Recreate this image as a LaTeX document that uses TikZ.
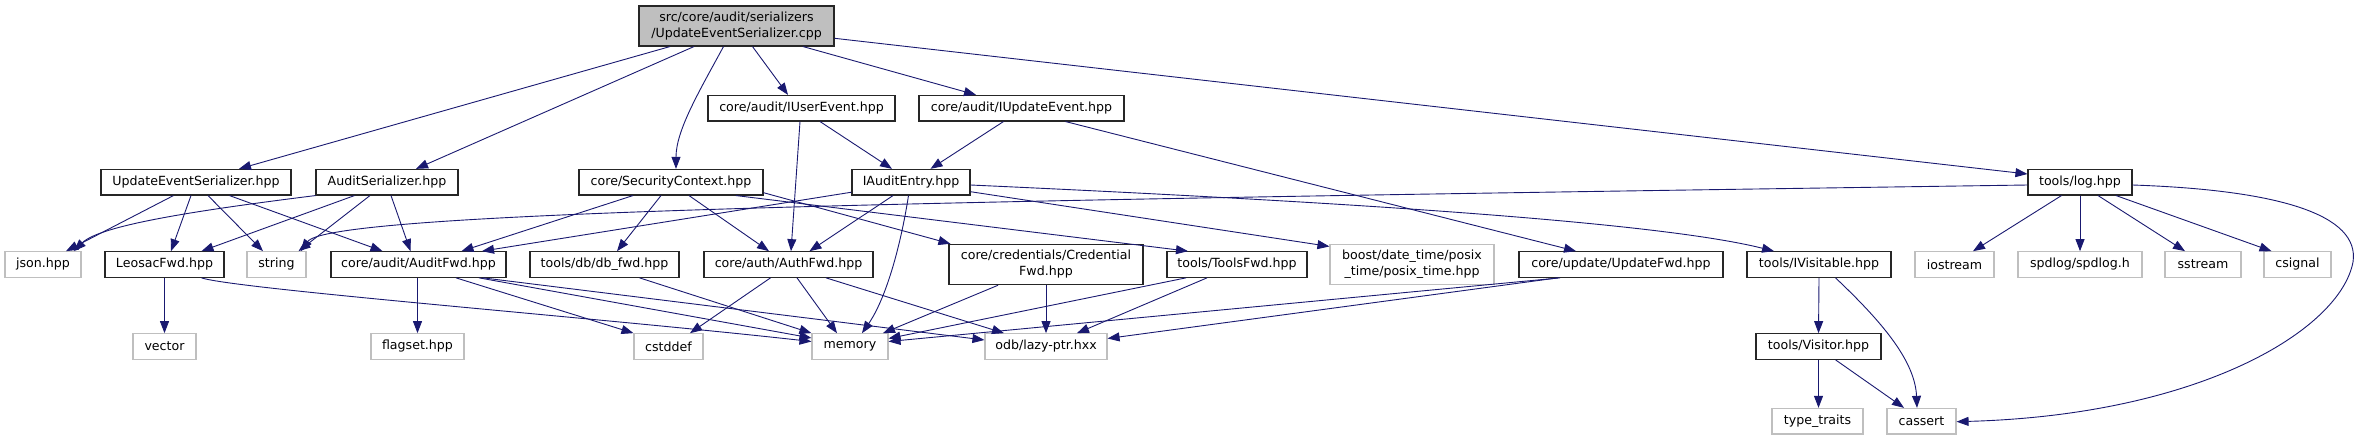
\documentclass[tikz,border=0pt]{standalone}
\usepackage{fontspec}
\setmainfont{DejaVu Sans}
\usetikzlibrary{arrows.meta}
\definecolor{edgec}{HTML}{191970}
\definecolor{greyb}{HTML}{BFBFBF}
\tikzset{
  hdr/.style={draw=black!85, line width=1.1pt, minimum height=25.6pt, inner sep=0pt,
    font=\fontsize{12.6}{16}\selectfont, align=center},
  ext/.style={hdr, draw=greyb},
  rootn/.style={hdr, fill=greyb, minimum height=40pt},
  two/.style={minimum height=40.4pt},
  dep/.style={draw=edgec, line width=0.9pt, -{Triangle[length=12pt,width=9pt]}},
}
\begin{document}
\begin{tikzpicture}[x=1pt,y=-1pt]
\useasboundingbox (0,0) rectangle (2357,440);
% layer 0/1
\node[rootn, minimum width=195pt] (root) at (736.5,26) {src/core/audit/serializers\\/UpdateEventSerializer.cpp};
\node[hdr, minimum width=187pt] (iuser) at (801.5,108.2) {core/audit/IUserEvent.hpp};
\node[hdr, minimum width=205pt] (iupd) at (1021.5,108.2) {core/audit/IUpdateEvent.hpp};
% layer 2
\node[hdr, minimum width=190pt] (ues) at (196,182.2) {UpdateEventSerializer.hpp};
\node[hdr, minimum width=142pt] (aser) at (387,182.2) {AuditSerializer.hpp};
\node[hdr, minimum width=184pt] (sc) at (671,182.2) {core/SecurityContext.hpp};
\node[hdr, minimum width=118pt] (iae) at (911,182.2) {IAuditEntry.hpp};
\node[hdr, minimum width=104pt] (log) at (2080,182.2) {tools/log.hpp};
% layer 3
\node[ext, minimum width=76pt] (json) at (43,264.5) {json.hpp};
\node[hdr, minimum width=119pt] (leo) at (164.5,264.5) {LeosacFwd.hpp};
\node[ext, minimum width=59pt] (str) at (276.5,264.5) {string};
\node[hdr, minimum width=175pt] (afwd) at (418.5,264.5) {core/audit/AuditFwd.hpp};
\node[hdr, minimum width=149pt] (db) at (604.5,264.5) {tools/db/db\_fwd.hpp};
\node[hdr, minimum width=169pt] (auth) at (788.5,264.5) {core/auth/AuthFwd.hpp};
\node[hdr, two, minimum width=194pt] (cred) at (1046,264.5) {core/credentials/Credential\\Fwd.hpp};
\node[hdr, minimum width=140pt] (tfwd) at (1237,264.5) {tools/ToolsFwd.hpp};
\node[ext, two, minimum width=164pt] (boost) at (1412,264.5) {boost/date\_time/posix\\\_time/posix\_time.hpp};
\node[hdr, minimum width=204pt] (ufwd) at (1621,264.5) {core/update/UpdateFwd.hpp};
\node[hdr, minimum width=144pt] (ivis) at (1819,264.5) {tools/IVisitable.hpp};
\node[ext, minimum width=79pt] (ios) at (1954.5,264.5) {iostream};
\node[ext, minimum width=124pt] (spd) at (2080,264.5) {spdlog/spdlog.h};
\node[ext, minimum width=76pt] (sst) at (2203,264.5) {sstream};
\node[ext, minimum width=67pt] (csig) at (2297.5,264.5) {csignal};
% layer 4
\node[ext, minimum width=63pt] (vec) at (164.5,346.5) {vector};
\node[ext, minimum width=93pt] (flag) at (417.5,346.5) {flagset.hpp};
\node[ext, minimum width=69pt] (cstd) at (668.5,346.5) {cstddef};
\node[ext, minimum width=76pt] (mem) at (850,346.5) {memory};
\node[ext, minimum width=122pt] (lazy) at (1046,346.5) {odb/lazy-ptr.hxx};
\node[hdr, minimum width=125pt] (vis) at (1818.5,346.5) {tools/Visitor.hpp};
% layer 5
\node[ext, minimum width=91pt] (tt) at (1817.5,421.2) {type\_traits};
\node[ext, minimum width=69pt] (cas) at (1921.5,421.2) {cassert};

% edges from root
\draw[dep] ([xshift=-66.5pt]root.south) -- ([xshift=43pt]ues.north);
\draw[dep] ([xshift=-42.5pt]root.south) -- ([xshift=29pt]aser.north);
\draw[dep] ([xshift=-13pt]root.south) .. controls (700,90) and (676,130) .. ([xshift=5pt]sc.north);
\draw[dep] ([xshift=16pt]root.south) -- ([xshift=-13.5pt]iuser.north);
\draw[dep] ([xshift=66.5pt]root.south) -- ([xshift=-45.5pt]iupd.north);
\draw[dep] ([yshift=-12.3pt]root.east) -- ([yshift=8.2pt]log.west);
% layer 1
\draw[dep] ([xshift=18.5pt]iuser.south) -- ([xshift=-19pt]iae.north);
\draw[dep] ([xshift=-1.5pt]iuser.south) -- ([xshift=2.5pt]auth.north);
\draw[dep] ([xshift=-18pt]iupd.south) -- ([xshift=19.5pt]iae.north);
\draw[dep] ([xshift=44pt]iupd.south) -- ([xshift=-45pt]ufwd.north);
% layer 2
\draw[dep] ([xshift=-22.5pt]ues.south) -- ([xshift=23pt]json.north);
\draw[dep] ([xshift=-5pt]ues.south) -- ([xshift=6.5pt]leo.north);
\draw[dep] ([xshift=12pt]ues.south) -- ([xshift=-13.5pt]str.north);
\draw[dep] ([xshift=33.5pt]ues.south) -- ([xshift=-36pt]afwd.north);
\draw[dep] (aser.south west) .. controls (200,210) and (100,225) .. ([xshift=31pt]json.north);
\draw[dep] ([xshift=-32.5pt]aser.south) -- ([xshift=37pt]leo.north);
\draw[dep] ([xshift=-17pt]aser.south) -- ([xshift=22pt]str.north);
\draw[dep] ([xshift=4pt]aser.south) -- ([xshift=-8pt]afwd.north);
\draw[dep] ([xshift=-38pt]sc.south) -- ([xshift=43pt]afwd.north);
\draw[dep] ([xshift=-10pt]sc.south) -- ([xshift=12.5pt]db.north);
\draw[dep] ([xshift=18pt]sc.south) -- ([xshift=-19.5pt]auth.north);
\draw[dep] ([yshift=-10.5pt]sc.east) -- ([xshift=2pt]cred.north west);
\draw[dep] ([xshift=65pt]sc.south) -- ([xshift=-49pt]tfwd.north);
\draw[dep] ([yshift=-10pt]iae.west) -- ([xshift=63.5pt]afwd.north);
\draw[dep] ([xshift=-18pt]iae.south) -- ([xshift=21pt]auth.north);
\draw[dep] ([xshift=-2.5pt]iae.south) .. controls (900,250) and (885,300) .. ([xshift=12pt]mem.north);
\draw[dep] ([yshift=-9.5pt]iae.east) -- ([yshift=-2.7pt]boost.north west);
\draw[dep] ([yshift=-2.8pt]iae.east) .. controls (1300,200) and (1650,220) .. ([xshift=-45pt]ivis.north);
\draw[dep] ([yshift=-2.8pt]log.west) .. controls (1000,200) and (330,210) .. ([xshift=24.5pt]str.north);
\draw[dep] ([xshift=-18.5pt]log.south) -- ([xshift=18.5pt]ios.north);
\draw[dep] (log.south) -- (spd.north);
\draw[dep] ([xshift=18pt]log.south) -- ([xshift=-18pt]sst.north);
\draw[dep] ([xshift=36pt]log.south) -- ([xshift=-26pt]csig.north);
\draw[dep] ([yshift=-2.8pt]log.east) .. controls (2280,190) and (2360,215) .. (2353,262)
  .. controls (2340,330) and (2200,415) .. ([yshift=-0.5pt]cas.east);
% layer 3
\draw[dep] (leo.south) -- (vec.north);
\draw[dep] ([xshift=37pt]leo.south) .. controls (235,289) and (600,318) .. ([yshift=5pt]mem.west);
\draw[dep] ([xshift=-1pt]afwd.south) -- (flag.north);
\draw[dep] ([xshift=37.5pt]afwd.south) -- (cstd.north west);
\draw[dep] ([xshift=60.5pt]afwd.south) -- ([yshift=8.5pt]mem.west);
\draw[dep] ([xshift=64.5pt]afwd.south) -- ([yshift=6.5pt]lazy.west);
\draw[dep] ([xshift=35pt]db.south) -- (mem.north west);
\draw[dep] ([xshift=-18pt]auth.south) -- ([xshift=21.5pt]cstd.north);
\draw[dep] ([xshift=8.5pt]auth.south) -- ([xshift=-13pt]mem.north);
\draw[dep] ([xshift=37.5pt]auth.south) -- ([xshift=-42pt]lazy.north);
\draw[dep] ([xshift=-48pt]cred.south) -- ([xshift=33pt]mem.north);
\draw[dep] (cred.south) -- (lazy.north);
\draw[dep] ([xshift=-51pt]tfwd.south) -- ([yshift=8pt]mem.east);
\draw[dep] ([xshift=-30pt]tfwd.south) -- ([xshift=31pt]lazy.north);
\draw[dep] ([xshift=-61pt]ufwd.south) -- ([yshift=5pt]mem.east);
\draw[dep] ([xshift=-63pt]ufwd.south) -- ([yshift=8pt]lazy.east);
\draw[dep] (ivis.south) -- (vis.north);
\draw[dep] ([xshift=16.5pt]ivis.south) .. controls (1880,320) and (1915,360) .. ([xshift=-4.5pt]cas.north);
% layer 4
\draw[dep] (vis.south) -- ([xshift=1pt]tt.north);
\draw[dep] ([xshift=17pt]vis.south) -- ([xshift=-17.5pt]cas.north);
\end{tikzpicture}
\end{document}
